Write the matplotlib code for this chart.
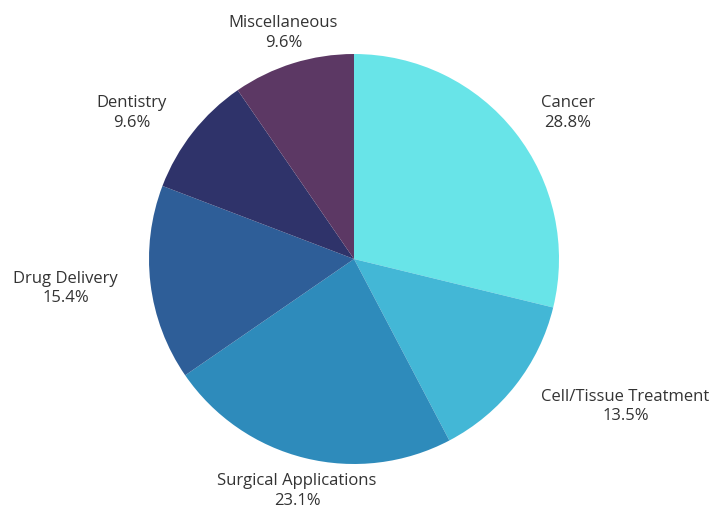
import numpy as np
import matplotlib.pyplot as plt

plt.rcParams['font.family'] = ['Open Sans', 'DejaVu Sans']

# Data
categories = ['Cancer', 'Cell/Tissue Treatment', 'Surgical Applications',
              'Drug Delivery', 'Dentistry', 'Miscellaneous']
shares = [28.8, 13.5, 23.1, 15.4, 9.6, 9.6]
colors = ['#68e4e8', '#43b7d6', '#2e8bbb', '#2e5e98', '#2f336a', '#5c3864']

fig = plt.figure(figsize=(7.15, 5.1), dpi=100)
ax = fig.add_axes([0, 0, 1, 1])

# pie centre at (354, 260) px, radius 205 px
r_px = 205
wedges, _ = ax.pie(shares, colors=colors, startangle=90, counterclock=False,
                   radius=1, wedgeprops=dict(linewidth=0))

# labels outside each slice
for w, cat, val in zip(wedges, categories, shares):
    mid = np.deg2rad((w.theta1 + w.theta2) / 2)
    c, s = np.cos(mid), np.sin(mid)
    ha = 'left' if c > 0.5 else ('right' if c < -0.5 else 'center')
    ax.text(1.16 * c, 1.16 * s, f'{cat}\n{val}%', ha=ha, va='center',
            ma='center', fontsize=12, color='#333333', linespacing=1.3)

ax.set_xlim(-354 / r_px, (715 - 354) / r_px)
ax.set_ylim(-(510 - 260) / r_px, 260 / r_px)
ax.set_aspect('equal')
ax.axis('off')

plt.savefig('out.png', dpi=100, facecolor='white')
